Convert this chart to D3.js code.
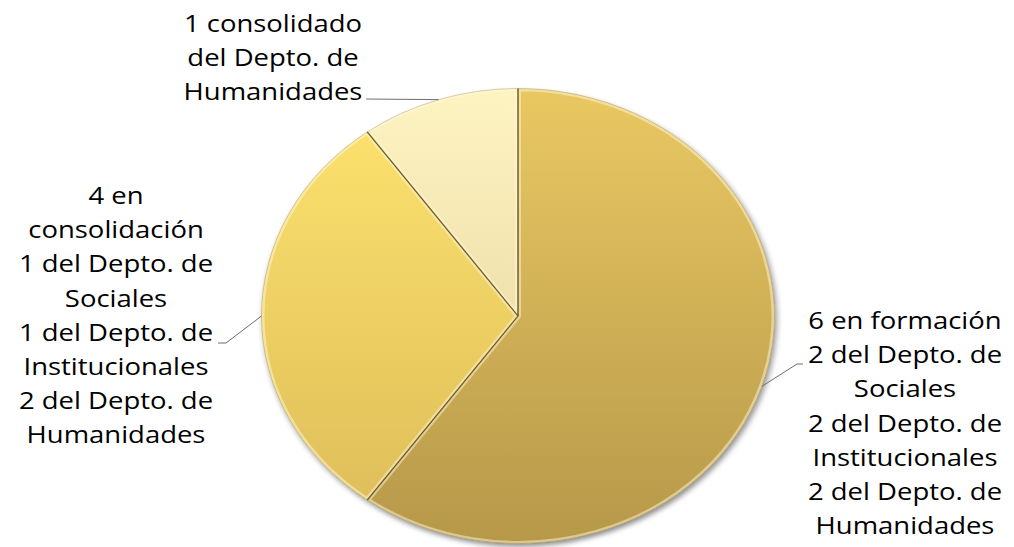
<!DOCTYPE html>
<html><head><meta charset="utf-8">
<script src="https://cdn.jsdelivr.net/npm/d3@7"></script>
<style>html,body{margin:0;padding:0;background:#fff;}svg{display:block;}</style>
</head><body>
<svg id="chart" width="1014" height="547"></svg>
<script>
// ---- data ----
const categories = ["en formación", "en consolidación", "consolidado"];
const values = [6, 3, 1];
const labelLines = [
  ["6 en formación", "2 del Depto. de", "Sociales", "2 del Depto. de", "Institucionales", "2 del Depto. de", "Humanidades"],
  ["4 en", "consolidación", "1 del Depto. de", "Sociales", "1 del Depto. de", "Institucionales", "2 del Depto. de", "Humanidades"],
  ["1 consolidado", "del Depto. de", "Humanidades"]
];
const colorsTop = ["#e9c862", "#fee46f", "#fdf4c2"];
const colorsBottom = ["#b6984a", "#dcbb58", "#e2cd97"];

// ---- layout ----
const cx = 518, cy = 316, rx = 256.5, ry = 227.5;
const ky = ry / rx;
const svg = d3.select("#chart");
const defs = svg.append("defs");

const shadow = defs.append("filter").attr("id", "shadow")
  .attr("x", "-10%").attr("y", "-10%").attr("width", "120%").attr("height", "120%");
shadow.append("feGaussianBlur").attr("in", "SourceAlpha").attr("stdDeviation", 3).attr("result", "b");
shadow.append("feOffset").attr("in", "b").attr("dx", 2).attr("dy", 3).attr("result", "o");
shadow.append("feComponentTransfer").attr("in", "o").attr("result", "s")
  .append("feFuncA").attr("type", "linear").attr("slope", 0.45);
const fm = shadow.append("feMerge");
fm.append("feMergeNode").attr("in", "s");
fm.append("feMergeNode").attr("in", "SourceGraphic");

categories.forEach((c, i) => {
  const g = defs.append("linearGradient").attr("id", "grad" + i)
    .attr("gradientUnits", "userSpaceOnUse")
    .attr("x1", 0).attr("x2", 0).attr("y1", -rx).attr("y2", rx);
  g.append("stop").attr("offset", "0%").attr("stop-color", colorsTop[i]);
  g.append("stop").attr("offset", "100%").attr("stop-color", colorsBottom[i]);
});

const pie = d3.pie().sort(null).value(d => d)(values);
const arc = d3.arc().innerRadius(0).outerRadius(rx);

pie.forEach((d, i) => {
  defs.append("clipPath").attr("id", "clip" + i)
    .append("path").attr("d", arc(d));
});

const g = svg.append("g").attr("transform", `translate(${cx},${cy}) scale(1,${ky})`);
const slices = g.append("g").attr("filter", "url(#shadow)");
slices.selectAll("path.slice").data(pie).join("path").attr("class", "slice")
  .attr("d", arc).attr("fill", (d, i) => `url(#grad${i})`);
// bevel highlight
g.selectAll("path.bevel").data(pie).join("path").attr("class", "bevel")
  .attr("d", arc).attr("fill", "none")
  .attr("stroke", "#fff8d8").attr("stroke-opacity", 0.5).attr("stroke-width", 6)
  .attr("clip-path", (d, i) => `url(#clip${i})`);
// outer rim, subtle
g.selectAll("path.edge").data(pie).join("path").attr("class", "edge")
  .attr("d", arc).attr("fill", "none")
  .attr("stroke", "#8a7434").attr("stroke-opacity", 0.35).attr("stroke-width", 1);
// dark radial separators
g.selectAll("line.sep").data(pie).join("line").attr("class", "sep")
  .attr("x1", 0).attr("y1", 0)
  .attr("x2", d => rx * Math.sin(d.startAngle))
  .attr("y2", d => -rx * Math.cos(d.startAngle))
  .attr("stroke", "#5e4c1e").attr("stroke-opacity", 0.8).attr("stroke-width", 1.4);

// ---- labels ----
const fontSize = 23.5, lineH = 34.2;
const labelPos = [
  {x: 905, y: 329, lx: 803, ly: 364, sx: 797},
  {x: 116, y: 204, lx: 218, ly: 343, sx: 226},
  {x: 273, y: 32, lx: 366, ly: 99, sx: 366}
];
const probe = svg.append("text").attr("font-family", "Open Sans").attr("font-size", fontSize).text("Humanidades");
const sxScale = 179 / probe.node().getComputedTextLength();
probe.remove();

pie.forEach((d, i) => {
  const p = labelPos[i];
  const mid = (d.startAngle + d.endAngle) / 2;
  const ex = cx + rx * Math.sin(mid), ey = cy - ry * Math.cos(mid);
  svg.append("polyline")
    .attr("points", `${ex},${ey} ${p.sx},${p.ly} ${p.lx},${p.ly}`)
    .attr("fill", "none").attr("stroke", "#6f6f6f").attr("stroke-width", 1);
  const t = svg.append("g").attr("transform", `translate(${p.x},0) scale(${sxScale},1)`);
  t.selectAll("text").data(labelLines[i]).join("text")
    .attr("x", 0).attr("y", (s, k) => p.y + k * lineH)
    .attr("text-anchor", "middle")
    .attr("font-family", "Open Sans").attr("font-size", fontSize)
    .attr("fill", "#000").text(s => s);
});
</script>
</body></html>
